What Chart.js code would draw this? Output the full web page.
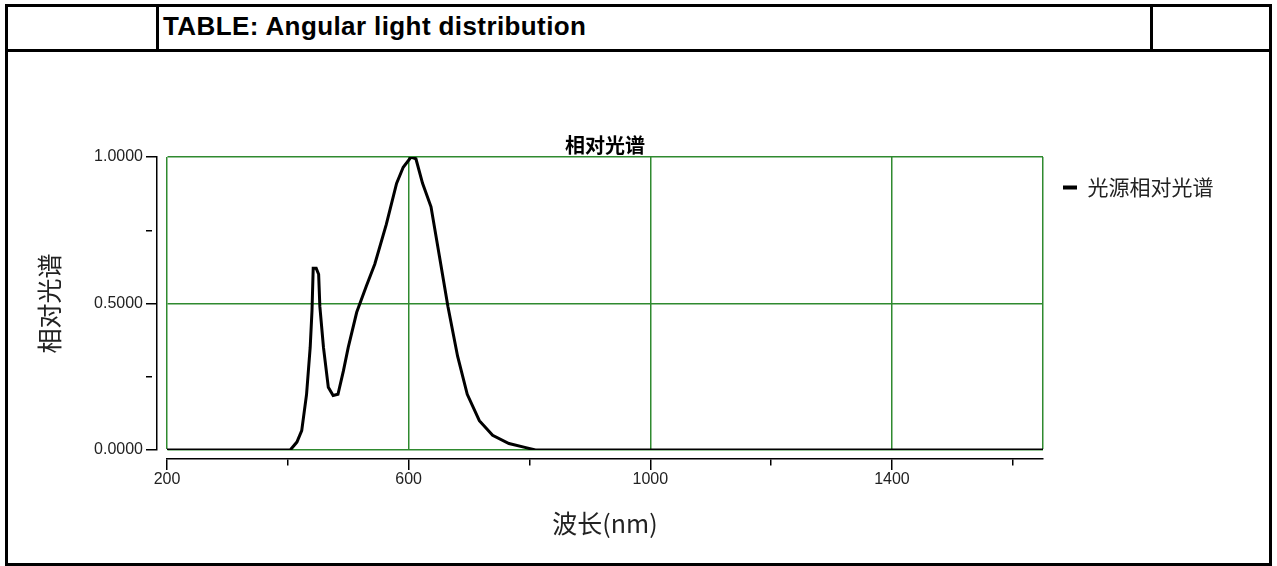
<!DOCTYPE html>
<html>
<head>
<meta charset="utf-8">
<script src="https://cdn.jsdelivr.net/npm/chart.js"></script>
<style>
  html, body { margin: 0; padding: 0; background: #fff; }
  body { width: 1277px; height: 566px; position: relative; overflow: hidden; }
  .frame { position: absolute; left: 5px; top: 4px; width: 1267px; height: 562px; border: 3px solid #000; box-sizing: border-box; }
  .hline { position: absolute; left: 5px; top: 49px; width: 1267px; height: 3px; background: #000; }
  .vline { position: absolute; top: 4px; width: 3px; height: 48px; background: #000; }
  .caption {
    position: absolute; left: 163px; top: 13px;
    font: bold 26px "Liberation Sans", Arial, sans-serif; line-height: 26px;
    letter-spacing: 0.4px; color: #000; white-space: nowrap;
  }
  #spectrum { position: absolute; left: 0; top: 0; }
</style>
</head>
<body>
  <div class="frame"></div>
  <div class="hline"></div>
  <div class="vline" style="left:156px"></div>
  <div class="vline" style="left:1150px"></div>
  <div class="caption">TABLE: Angular light distribution</div>
  <canvas id="spectrum" width="1277" height="566"></canvas>

  <script>
    // values
    const wavelengths = [200, 404, 415, 423, 431, 437, 440, 442, 447, 451, 453, 459, 467, 475, 483,
                         492, 500, 514, 530, 544, 563, 580, 591, 604, 612, 623, 637, 651, 665, 681,
                         697, 717, 739, 766, 794, 810, 1650];
    const relSpectrum = [0, 0, 0.027, 0.066, 0.19, 0.35, 0.475, 0.62, 0.62, 0.60, 0.49, 0.35, 0.214, 0.186, 0.19,
                         0.27, 0.35, 0.47, 0.56, 0.635, 0.77, 0.91, 0.965, 1.0, 0.994, 0.91, 0.83, 0.66, 0.49, 0.32,
                         0.19, 0.10, 0.05, 0.022, 0.008, 0, 0];

    const seriesName = '光源相对光谱';
    const chartTitle = '相对光谱';
    const xTitle = '波长(nm)';
    const yTitle = '相对光谱';

    const xMin = 200, xMax = 1650;
    const xTicks = [200, 400, 600, 800, 1000, 1200, 1400, 1600, 1650];
    const xLabelled = [200, 600, 1000, 1400];
    const xGrid = [200, 600, 1000, 1400, 1650];
    const yTicks = [0, 0.25, 0.5, 0.75, 1];
    const yLabelled = [0, 0.5, 1];

    const green = '#2f8a2f';
    const tickFont = { family: '"Liberation Sans", Arial, sans-serif', size: 16 };
    const cjk = '"Noto Sans CJK SC", sans-serif';

    // black axes sit a little away from the green plot frame
    const axisGap = {
      id: 'axisGap',
      afterLayout(chart) {
        const { x, y } = chart.scales;
        x.top += 9; x.bottom += 9;
        y.left -= 10; y.right -= 10;
      }
    };

    const points = wavelengths.map((w, i) => ({ x: w, y: relSpectrum[i] }));

    new Chart(document.getElementById('spectrum'), {
      type: 'line',
      data: {
        datasets: [{
          label: seriesName,
          data: points,
          borderColor: '#000',
          backgroundColor: '#000',
          borderWidth: 3,
          pointRadius: 0,
          tension: 0,
          fill: false
        }]
      },
      options: {
        responsive: false,
        animation: false,
        layout: { padding: { left: 0, top: 0, right: 53.5, bottom: 0 } },
        plugins: {
          title: {
            display: true,
            text: chartTitle,
            fullSize: false,
            color: '#000',
            font: { family: cjk, size: 20, weight: 'bold', lineHeight: 1.2 },
            padding: { top: 133, bottom: 0 }
          },
          legend: {
            position: 'right',
            align: 'start',
            fullSize: false,
            labels: {
              boxWidth: 14,
              boxHeight: 4,
              padding: 20,
              color: '#222',
              font: { family: cjk, size: 21 },
              generateLabels: (c) => Chart.defaults.plugins.legend.labels.generateLabels(c)
                .map(l => ({ ...l, lineWidth: 0 }))
            }
          },
          tooltip: { enabled: false }
        },
        scales: {
          x: {
            type: 'linear',
            min: xMin,
            max: xMax,
            afterBuildTicks: (s) => { s.ticks = xTicks.map(v => ({ value: v })); },
            afterFit: (s) => { s.height = 116; },
            border: { display: true, color: '#000', width: 1.5 },
            grid: {
              color: (ctx) => xGrid.includes(ctx.tick && ctx.tick.value) ? green : 'rgba(0,0,0,0)',
              lineWidth: 1.5,
              tickLength: 11,
              tickWidth: 1.5,
              tickColor: (ctx) => (ctx.tick && ctx.tick.value === xMax) ? 'rgba(0,0,0,0)' : '#000',
              tickBorderDash: (ctx) => xLabelled.includes(ctx.tick && ctx.tick.value) ? [] : [6, 30]
            },
            ticks: {
              autoSkip: false,
              maxRotation: 0,
              padding: 0,
              color: '#222',
              font: tickFont,
              callback: (v) => xLabelled.includes(v) ? String(v) : ''
            },
            title: {
              display: true,
              text: xTitle,
              color: '#222',
              font: { family: cjk, size: 25, lineHeight: 1 },
              padding: { top: 0, bottom: 39.5 }
            }
          },
          y: {
            min: 0,
            max: 1,
            afterBuildTicks: (s) => { s.ticks = yTicks.map(v => ({ value: v })); },
            afterFit: (s) => { s.width = 167; },
            border: { display: true, color: '#000', width: 1.5 },
            grid: {
              color: (ctx) => (ctx.tick && yLabelled.includes(ctx.tick.value)) ? green : 'rgba(0,0,0,0)',
              lineWidth: 1.5,
              tickLength: 11,
              tickWidth: 1.5,
              tickColor: '#000',
              tickBorderDash: (ctx) => yLabelled.includes(ctx.tick && ctx.tick.value) ? [] : [6, 30]
            },
            ticks: {
              autoSkip: false,
              padding: 3,
              color: '#222',
              font: tickFont,
              callback: (v) => yLabelled.includes(v) ? v.toFixed(4) : ''
            },
            title: {
              display: true,
              text: yTitle,
              color: '#222',
              font: { family: cjk, size: 25, lineHeight: 1 },
              padding: { top: 46.5, bottom: 0 }
            }
          }
        }
      },
      plugins: [axisGap]
    });
  </script>
</body>
</html>
